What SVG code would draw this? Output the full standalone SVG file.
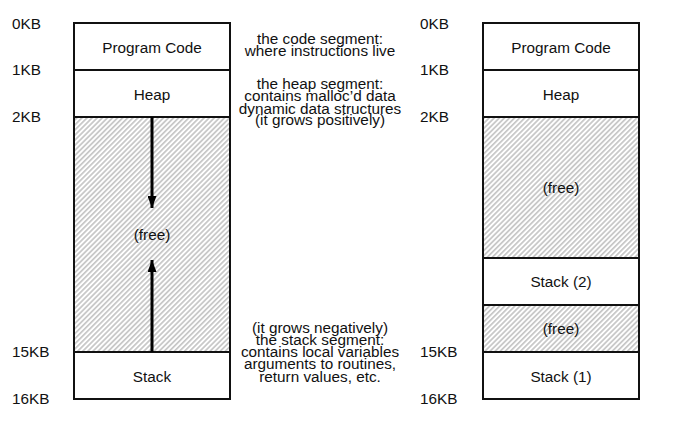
<svg xmlns="http://www.w3.org/2000/svg" width="673" height="425" viewBox="0 0 673 425">
<style>
text{font-family:"Liberation Sans",Arial,sans-serif;font-size:15.3px;fill:#111}
.c{text-anchor:middle}
.box{fill:#fff;stroke:#111;stroke-width:2}
.free{fill:url(#hatch);stroke:#111;stroke-width:2}
.arr{stroke:#000;stroke-width:3;fill:none}
</style>
<defs>
<pattern id="hatch" patternUnits="userSpaceOnUse" width="3.6" height="3.6" patternTransform="rotate(45)">
<rect width="3.6" height="3.6" fill="#fff"/>
<rect width="1.7" height="3.6" fill="#c6c6c6"/>
</pattern>
<marker id="ah" markerWidth="12" markerHeight="9" refX="12" refY="4.5" orient="auto" markerUnits="userSpaceOnUse">
<path d="M0,0 L12,4.5 L0,9 Z" fill="#000"/>
</marker>
</defs>

<g id="left-addresses">
<text x="12" y="28.5">0KB</text>
<text x="12" y="75">1KB</text>
<text x="12" y="121.5">2KB</text>
<text x="12" y="357">15KB</text>
<text x="12" y="404">16KB</text>
</g>

<g id="left-code"><rect class="box" x="74" y="23" width="156" height="47"/><text class="c" x="152" y="52.5">Program Code</text></g>
<g id="left-heap"><rect class="box" x="74" y="70" width="156" height="47"/><text class="c" x="152" y="99.5">Heap</text></g>
<g id="left-free"><rect class="free" x="74" y="117" width="156" height="235"/><text class="c" x="152" y="240">(free)</text></g>
<g id="left-stack"><rect class="box" x="74" y="352" width="156" height="47"/><text class="c" x="152" y="381.5">Stack</text></g>

<g id="connectors">
<line class="arr" x1="152" y1="117" x2="152" y2="208" marker-end="url(#ah)"/>
<line class="arr" x1="152" y1="352" x2="152" y2="260" marker-end="url(#ah)"/>
</g>

<g id="note-code">
<text class="c" x="320" y="44">the code segment:</text>
<text class="c" x="320" y="55.5">where instructions live</text>
</g>
<g id="note-heap">
<text class="c" x="320" y="89.3">the heap segment:</text>
<text class="c" x="320" y="101.3">contains malloc’d data</text>
<text class="c" x="320" y="113.5">dynamic data structures</text>
<text class="c" x="320" y="125.3">(it grows positively)</text>
</g>
<g id="note-stack">
<text class="c" x="320" y="333.3">(it grows negatively)</text>
<text class="c" x="320" y="345.3">the stack segment:</text>
<text class="c" x="320" y="357.3">contains local variables</text>
<text class="c" x="320" y="369.4">arguments to routines,</text>
<text class="c" x="320" y="381.6">return values, etc.</text>
</g>

<g id="right-addresses">
<text x="420" y="28.5">0KB</text>
<text x="420" y="75">1KB</text>
<text x="420" y="121.5">2KB</text>
<text x="420" y="357">15KB</text>
<text x="420" y="404">16KB</text>
</g>

<g id="right-code"><rect class="box" x="483" y="23" width="156" height="47"/><text class="c" x="561" y="52.5">Program Code</text></g>
<g id="right-heap"><rect class="box" x="483" y="70" width="156" height="47"/><text class="c" x="561" y="99.5">Heap</text></g>
<g id="right-free1"><rect class="free" x="483" y="117" width="156" height="141"/><text class="c" x="561" y="193">(free)</text></g>
<g id="right-stack2"><rect class="box" x="483" y="258" width="156" height="47"/><text class="c" x="561" y="287">Stack (2)</text></g>
<g id="right-free2"><rect class="free" x="483" y="305" width="156" height="47"/><text class="c" x="561" y="334">(free)</text></g>
<g id="right-stack1"><rect class="box" x="483" y="352" width="156" height="47"/><text class="c" x="561" y="381.5">Stack (1)</text></g>
</svg>
